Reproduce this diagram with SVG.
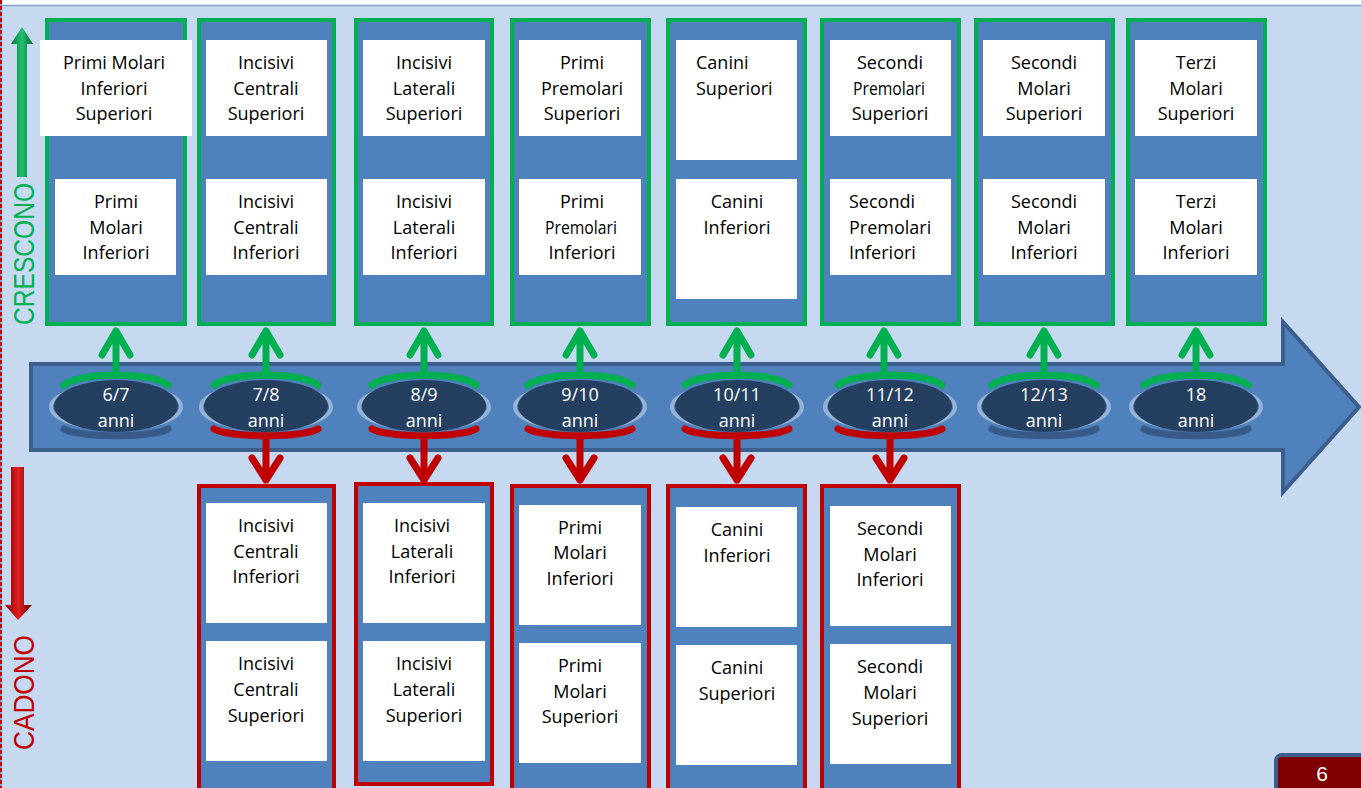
<svg xmlns="http://www.w3.org/2000/svg" width="1361" height="788" viewBox="0 0 1361 788">
<defs>
<style>
.t{font-family:"Open Sans","Liberation Sans",Arial,sans-serif;font-size:18px;fill:#000;text-anchor:middle}
.s{text-anchor:start}
.w{font-family:"Open Sans","Liberation Sans",Arial,sans-serif;font-size:18px;fill:#fff;text-anchor:middle}
.gcol{fill:#4f81bd;stroke:#00b050;stroke-width:4}
.rcol{fill:#4f81bd;stroke:#c00000;stroke-width:4}
.wb{fill:#fff}
.garc{fill:none;stroke:#00b050;stroke-width:7;stroke-linecap:round}
.rarc{fill:none;stroke:#c00000;stroke-width:7;stroke-linecap:round}
.barc{fill:none;stroke:#375a88;stroke-width:7;stroke-linecap:round}
.ga{fill:none;stroke:#00b050;stroke-width:7;stroke-linecap:round;stroke-linejoin:round}
.ra{fill:none;stroke:#c00000;stroke-width:7;stroke-linecap:round;stroke-linejoin:round}
.ring{fill:none;stroke:#95b3d7;stroke-width:4}
.dk{fill:#243f60}
</style>
<linearGradient id="gg" x1="0" x2="1" y1="0" y2="0"><stop offset="0" stop-color="#007a3a"/><stop offset="0.5" stop-color="#22c070"/><stop offset="1" stop-color="#006030"/></linearGradient>
<linearGradient id="rg" x1="0" x2="1" y1="0" y2="0"><stop offset="0" stop-color="#8a0000"/><stop offset="0.5" stop-color="#e02020"/><stop offset="1" stop-color="#700000"/></linearGradient>
</defs>
<rect x="0" y="0" width="1361" height="788" fill="#c6d9f0"/>
<rect x="0" y="0" width="1361" height="5" fill="#fff"/>
<line x1="0" y1="5.5" x2="1361" y2="5.5" stroke="#7f9fc8" stroke-width="1.5"/>
<line x1="1" y1="0" x2="1" y2="788" stroke="#7fa6d6" stroke-width="2"/>
<line x1="1" y1="0" x2="1" y2="788" stroke="#c00000" stroke-width="2" stroke-dasharray="4 2"/>

<g id="side-labels">
<path d="M17 177 L17 44 L11 44 L22 27 L33 44 L27 44 L27 177 Z" fill="url(#gg)"/>
<text x="0" y="0" transform="translate(34,325) rotate(-90)" font-family="'Liberation Sans',Arial,sans-serif" font-size="29" fill="#00b050" textLength="142" lengthAdjust="spacingAndGlyphs">CRESCONO</text>
<path d="M11 467 L24 467 L24 605 L32 605 L18 620 L5 605 L11 605 Z" fill="url(#rg)"/>
<text x="0" y="0" transform="translate(34,750) rotate(-90)" font-family="'Liberation Sans',Arial,sans-serif" font-size="29" fill="#c00000" textLength="115" lengthAdjust="spacingAndGlyphs">CADONO</text>
</g>

<g id="timeline">
<path d="M31 364 L1283 364 L1283 322 L1359 407 L1283 492 L1283 450 L31 450 Z" fill="#4f81bd" stroke="#3b5e8c" stroke-width="4"/>
</g>

<g id="connectors">
<path class="ga" d="M116 372 V331 M102 355 L116 331 L130 355"/>
<path class="ga" d="M266 372 V331 M252 355 L266 331 L280 355"/>
<path class="ga" d="M424 372 V331 M410 355 L424 331 L438 355"/>
<path class="ga" d="M580 372 V331 M566 355 L580 331 L594 355"/>
<path class="ga" d="M737 372 V331 M723 355 L737 331 L751 355"/>
<path class="ga" d="M884 372 V331 M870 355 L884 331 L898 355"/>
<path class="ga" d="M1044 372 V331 M1030 355 L1044 331 L1058 355"/>
<path class="ga" d="M1196 372 V331 M1182 355 L1196 331 L1210 355"/>
<path class="ra" d="M266 437 V480 M252 458 L266 480 L280 458"/>
<path class="ra" d="M424 437 V480 M410 458 L424 480 L438 458"/>
<path class="ra" d="M580 437 V480 M566 458 L580 480 L594 458"/>
<path class="ra" d="M737 437 V480 M723 458 L737 480 L751 458"/>
<path class="ra" d="M890 437 V480 M876 458 L890 480 L904 458"/>
</g>

<g id="ages">
<g id="age-6-7" transform="translate(116,0)">
<ellipse class="ring" cx="0" cy="407" rx="65" ry="22"/><ellipse class="dk" cx="0" cy="406" rx="62" ry="26"/>
<path class="garc" d="M-52 385 A55 15 0 0 1 52 385"/><path class="barc" d="M-52 429 A55 10 0 0 0 52 429"/>
<text class="w" x="0" y="401">6/7</text><text class="w" x="0" y="427">anni</text></g>
<g id="age-7-8" transform="translate(266,0)">
<ellipse class="ring" cx="0" cy="407" rx="65" ry="22"/><ellipse class="dk" cx="0" cy="406" rx="62" ry="26"/>
<path class="garc" d="M-52 385 A55 15 0 0 1 52 385"/><path class="rarc" d="M-52 429 A55 10 0 0 0 52 429"/>
<text class="w" x="0" y="401">7/8</text><text class="w" x="0" y="427">anni</text></g>
<g id="age-8-9" transform="translate(424,0)">
<ellipse class="ring" cx="0" cy="407" rx="65" ry="22"/><ellipse class="dk" cx="0" cy="406" rx="62" ry="26"/>
<path class="garc" d="M-52 385 A55 15 0 0 1 52 385"/><path class="rarc" d="M-52 429 A55 10 0 0 0 52 429"/>
<text class="w" x="0" y="401">8/9</text><text class="w" x="0" y="427">anni</text></g>
<g id="age-9-10" transform="translate(580,0)">
<ellipse class="ring" cx="0" cy="407" rx="65" ry="22"/><ellipse class="dk" cx="0" cy="406" rx="62" ry="26"/>
<path class="garc" d="M-52 385 A55 15 0 0 1 52 385"/><path class="rarc" d="M-52 429 A55 10 0 0 0 52 429"/>
<text class="w" x="0" y="401">9/10</text><text class="w" x="0" y="427">anni</text></g>
<g id="age-10-11" transform="translate(737,0)">
<ellipse class="ring" cx="0" cy="407" rx="65" ry="22"/><ellipse class="dk" cx="0" cy="406" rx="62" ry="26"/>
<path class="garc" d="M-52 385 A55 15 0 0 1 52 385"/><path class="rarc" d="M-52 429 A55 10 0 0 0 52 429"/>
<text class="w" x="0" y="401">10/11</text><text class="w" x="0" y="427">anni</text></g>
<g id="age-11-12" transform="translate(890,0)">
<ellipse class="ring" cx="0" cy="407" rx="65" ry="22"/><ellipse class="dk" cx="0" cy="406" rx="62" ry="26"/>
<path class="garc" d="M-52 385 A55 15 0 0 1 52 385"/><path class="rarc" d="M-52 429 A55 10 0 0 0 52 429"/>
<text class="w" x="0" y="401">11/12</text><text class="w" x="0" y="427">anni</text></g>
<g id="age-12-13" transform="translate(1044,0)">
<ellipse class="ring" cx="0" cy="407" rx="65" ry="22"/><ellipse class="dk" cx="0" cy="406" rx="62" ry="26"/>
<path class="garc" d="M-52 385 A55 15 0 0 1 52 385"/><path class="barc" d="M-52 429 A55 10 0 0 0 52 429"/>
<text class="w" x="0" y="401">12/13</text><text class="w" x="0" y="427">anni</text></g>
<g id="age-18" transform="translate(1196,0)">
<ellipse class="ring" cx="0" cy="407" rx="65" ry="22"/><ellipse class="dk" cx="0" cy="406" rx="62" ry="26"/>
<path class="garc" d="M-52 385 A55 15 0 0 1 52 385"/><path class="barc" d="M-52 429 A55 10 0 0 0 52 429"/>
<text class="w" x="0" y="401">18</text><text class="w" x="0" y="427">anni</text></g>
</g>

<g id="grow-1">
<rect class="gcol" x="47" y="20" width="138" height="304"/>
<rect class="wb" x="40" y="40" width="152" height="96"/>
<rect class="wb" x="55" y="179" width="121" height="96"/>
<text class="t" x="114" y="69">Primi Molari</text><text class="t" x="114" y="95">Inferiori</text><text class="t" x="114" y="120">Superiori</text>
<text class="t" x="116" y="208">Primi</text><text class="t" x="116" y="234">Molari</text><text class="t" x="116" y="259">Inferiori</text>
</g>
<g id="grow-2">
<rect class="gcol" x="199" y="20" width="135" height="304"/>
<rect class="wb" x="206" y="40" width="121" height="96"/>
<rect class="wb" x="206" y="179" width="121" height="96"/>
<text class="t" x="266" y="69">Incisivi</text><text class="t" x="266" y="95">Centrali</text><text class="t" x="266" y="120">Superiori</text>
<text class="t" x="266" y="208">Incisivi</text><text class="t" x="266" y="234">Centrali</text><text class="t" x="266" y="259">Inferiori</text>
</g>
<g id="grow-3">
<rect class="gcol" x="356" y="20" width="136" height="304"/>
<rect class="wb" x="363" y="40" width="122" height="96"/>
<rect class="wb" x="363" y="179" width="122" height="96"/>
<text class="t" x="424" y="69">Incisivi</text><text class="t" x="424" y="95">Laterali</text><text class="t" x="424" y="120">Superiori</text>
<text class="t" x="424" y="208">Incisivi</text><text class="t" x="424" y="234">Laterali</text><text class="t" x="424" y="259">Inferiori</text>
</g>
<g id="grow-4">
<rect class="gcol" x="512" y="20" width="137" height="304"/>
<rect class="wb" x="519" y="40" width="122" height="96"/>
<rect class="wb" x="519" y="179" width="122" height="96"/>
<text class="t" x="582" y="69">Primi</text><text class="t" x="582" y="95">Premolari</text><text class="t" x="582" y="120">Superiori</text>
<text class="t" x="582" y="208">Primi</text><text class="t" x="581" y="234" textLength="72" lengthAdjust="spacingAndGlyphs">Premolari</text><text class="t" x="582" y="259">Inferiori</text>
</g>
<g id="grow-5">
<rect class="gcol" x="668" y="20" width="137" height="304"/>
<rect class="wb" x="676" y="40" width="121" height="120"/>
<rect class="wb" x="676" y="179" width="121" height="120"/>
<text class="t s" x="696" y="69">Canini</text><text class="t s" x="696" y="95">Superiori</text>
<text class="t" x="737" y="208">Canini</text><text class="t" x="737" y="234">Inferiori</text>
</g>
<g id="grow-6">
<rect class="gcol" x="822" y="20" width="137" height="304"/>
<rect class="wb" x="830" y="40" width="121" height="96"/>
<rect class="wb" x="830" y="179" width="121" height="96"/>
<text class="t" x="890" y="69">Secondi</text><text class="t" x="889" y="95" textLength="72" lengthAdjust="spacingAndGlyphs">Premolari</text><text class="t" x="890" y="120">Superiori</text>
<text class="t s" x="849" y="208">Secondi</text><text class="t s" x="849" y="234">Premolari</text><text class="t s" x="849" y="259">Inferiori</text>
</g>
<g id="grow-7">
<rect class="gcol" x="976" y="20" width="137" height="304"/>
<rect class="wb" x="983" y="40" width="122" height="96"/>
<rect class="wb" x="983" y="179" width="122" height="96"/>
<text class="t" x="1044" y="69">Secondi</text><text class="t" x="1044" y="95">Molari</text><text class="t" x="1044" y="120">Superiori</text>
<text class="t" x="1044" y="208">Secondi</text><text class="t" x="1044" y="234">Molari</text><text class="t" x="1044" y="259">Inferiori</text>
</g>
<g id="grow-8">
<rect class="gcol" x="1128" y="20" width="137" height="304"/>
<rect class="wb" x="1135" y="40" width="122" height="96"/>
<rect class="wb" x="1135" y="179" width="122" height="96"/>
<text class="t" x="1196" y="69">Terzi</text><text class="t" x="1196" y="95">Molari</text><text class="t" x="1196" y="120">Superiori</text>
<text class="t" x="1196" y="208">Terzi</text><text class="t" x="1196" y="234">Molari</text><text class="t" x="1196" y="259">Inferiori</text>
</g>

<g id="fall-2">
<rect class="rcol" x="199" y="486" width="135" height="310"/>
<rect class="wb" x="206" y="503" width="121" height="120"/>
<rect class="wb" x="206" y="641" width="121" height="120"/>
<text class="t" x="266" y="532">Incisivi</text><text class="t" x="266" y="558">Centrali</text><text class="t" x="266" y="583">Inferiori</text>
<text class="t" x="266" y="670">Incisivi</text><text class="t" x="266" y="696">Centrali</text><text class="t" x="266" y="722">Superiori</text>
</g>
<g id="fall-3">
<rect class="rcol" x="356" y="484" width="136" height="300"/>
<rect class="wb" x="363" y="503" width="122" height="120"/>
<rect class="wb" x="363" y="641" width="122" height="120"/>
<text class="t" x="422" y="532">Incisivi</text><text class="t" x="422" y="558">Laterali</text><text class="t" x="422" y="583">Inferiori</text>
<text class="t" x="424" y="670">Incisivi</text><text class="t" x="424" y="696">Laterali</text><text class="t" x="424" y="722">Superiori</text>
</g>
<g id="fall-4">
<rect class="rcol" x="512" y="486" width="137" height="310"/>
<rect class="wb" x="519" y="505" width="122" height="120"/>
<rect class="wb" x="519" y="643" width="122" height="120"/>
<text class="t" x="580" y="534">Primi</text><text class="t" x="580" y="559">Molari</text><text class="t" x="580" y="585">Inferiori</text>
<text class="t" x="580" y="672">Primi</text><text class="t" x="580" y="698">Molari</text><text class="t" x="580" y="723">Superiori</text>
</g>
<g id="fall-5">
<rect class="rcol" x="668" y="486" width="137" height="310"/>
<rect class="wb" x="676" y="507" width="121" height="120"/>
<rect class="wb" x="676" y="645" width="121" height="120"/>
<text class="t" x="737" y="536">Canini</text><text class="t" x="737" y="562">Inferiori</text>
<text class="t" x="737" y="674">Canini</text><text class="t" x="737" y="700">Superiori</text>
</g>
<g id="fall-6">
<rect class="rcol" x="822" y="486" width="137" height="310"/>
<rect class="wb" x="830" y="506" width="121" height="120"/>
<rect class="wb" x="830" y="644" width="121" height="120"/>
<text class="t" x="890" y="535">Secondi</text><text class="t" x="890" y="561">Molari</text><text class="t" x="890" y="586">Inferiori</text>
<text class="t" x="890" y="673">Secondi</text><text class="t" x="890" y="699">Molari</text><text class="t" x="890" y="725">Superiori</text>
</g>

<g id="page-number">
<rect x="1276" y="755" width="95" height="45" rx="6" fill="#800000" stroke="#3b5e8c" stroke-width="4"/>
<text x="1322" y="781" font-family="'Liberation Sans',Arial,sans-serif" font-size="21" fill="#fff" text-anchor="middle">6</text>
</g>
</svg>
